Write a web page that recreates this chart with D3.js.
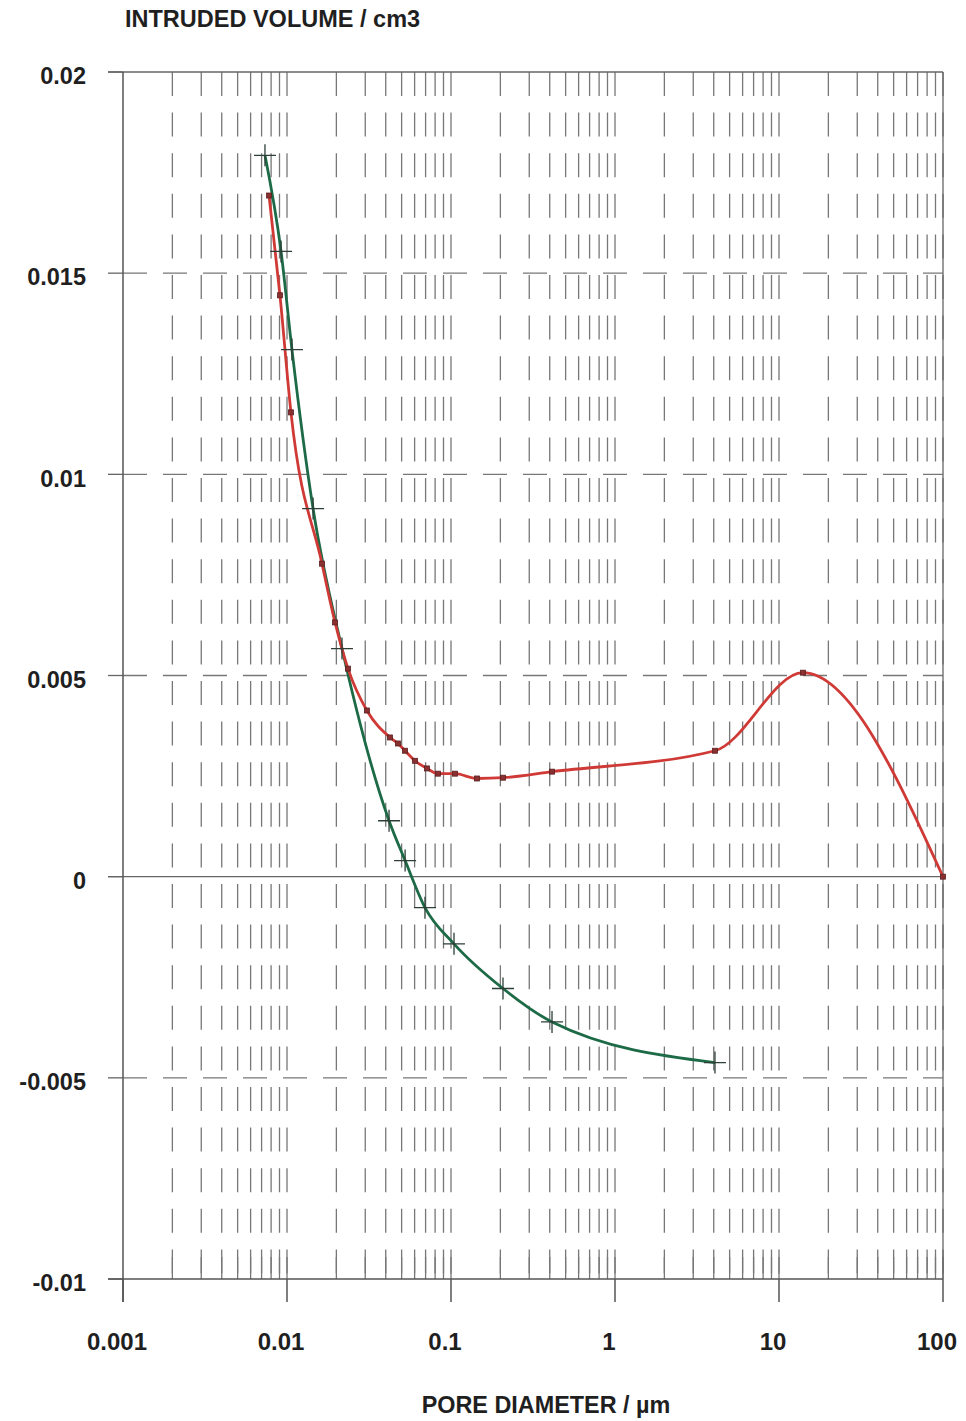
<!DOCTYPE html>
<html>
<head>
<meta charset="utf-8">
<script src="https://cdn.jsdelivr.net/npm/d3@7"></script>
<style>
  body { margin: 0; background: #fff; }
  text { font-family: "Liberation Sans", Arial, sans-serif; font-weight: bold; fill: #1f1f1f; }
</style>
</head>
<body>
<div class="chart"></div>
<script>
// pore diameter (um) and intruded volume (cm3)
var greenDiam = [0.00734, 0.0092, 0.01072, 0.01442, 0.02164, 0.0419, 0.0525, 0.0694, 0.1043, 0.2075, 0.413, 4.07];
var greenVol  = [0.01793, 0.01554, 0.0131, 0.00915, 0.00567, 0.00139, 0.0004, -0.00077, -0.00167, -0.00278, -0.00361, -0.00462];

var redDiam = [0.00777, 0.00906, 0.01057, 0.01634, 0.01963, 0.02355, 0.0307, 0.0425, 0.0475, 0.0524, 0.0603, 0.0714, 0.0833, 0.1058, 0.144, 0.2075, 0.413, 4.07, 14.0, 100];
var redVol  = [0.01693, 0.01445, 0.01154, 0.00778, 0.00632, 0.00517, 0.00413, 0.00346, 0.00331, 0.00313, 0.00288, 0.00269, 0.00256, 0.00256, 0.00244, 0.00246, 0.00261, 0.00313, 0.00507, 0];

var xTicks = [0.001, 0.01, 0.1, 1, 10, 100];
var xTickLabels = ["0.001", "0.01", "0.1", "1", "10", "100"];
var yTicks = [0.02, 0.015, 0.01, 0.005, 0, -0.005, -0.01];
var yTickLabels = ["0.02", "0.015", "0.01", "0.005", "0", "-0.005", "-0.01"];

function drawChart() {
    var width = 966, height = 1421;
    var plotLeft = 123, plotRight = 943, plotTop = 72, plotBottom = 1279;

    var svg = d3.select(".chart").append("svg")
        .attr("width", width)
        .attr("height", height);

    var x = d3.scaleLog().domain([0.001, 100]).range([plotLeft, plotRight]);
    var y = d3.scaleLinear().domain([-0.01, 0.02]).range([plotBottom, plotTop]);

    // minor vertical grid, 2..10 in every decade, short dashes
    var minor = [];
    for (var e = -3; e < 2; e++) {
        for (var m = 2; m <= 10; m++) minor.push(m * Math.pow(10, e));
    }
    svg.append("g").selectAll("line")
        .data(minor)
        .enter().append("line")
        .attr("x1", function (d) { return x(d); })
        .attr("x2", function (d) { return x(d); })
        .attr("y1", plotTop)
        .attr("y2", plotBottom)
        .attr("stroke", "#777")
        .attr("stroke-width", 1.3)
        .attr("stroke-dasharray", "24 16.6");

    // inward minor ticks on the x axis
    svg.append("g").selectAll("line")
        .data(minor)
        .enter().append("line")
        .attr("x1", function (d) { return x(d); })
        .attr("x2", function (d) { return x(d); })
        .attr("y1", plotBottom - 22)
        .attr("y2", plotBottom)
        .attr("stroke", "#777")
        .attr("stroke-width", 1.3);

    // horizontal grid, long dashes
    var hGrid = yTicks.filter(function (d) { return d !== 0 && d !== 0.02 && d !== -0.01; });
    svg.append("g").selectAll("line")
        .data(hGrid)
        .enter().append("line")
        .attr("x1", plotLeft)
        .attr("x2", plotRight)
        .attr("y1", function (d) { return y(d); })
        .attr("y2", function (d) { return y(d); })
        .attr("stroke", "#777")
        .attr("stroke-width", 1.3)
        .attr("stroke-dasharray", "24 16");

    // left ticks
    svg.append("g").selectAll("line")
        .data(yTicks)
        .enter().append("line")
        .attr("x1", plotLeft - 15)
        .attr("x2", plotLeft)
        .attr("y1", function (d) { return y(d); })
        .attr("y2", function (d) { return y(d); })
        .attr("stroke", "#666")
        .attr("stroke-width", 1.3);

    // solid lines: top, zero, bottom axis, left axis, right edge
    svg.append("line").attr("x1", plotLeft - 15).attr("x2", plotRight).attr("y1", y(0.02)).attr("y2", y(0.02))
        .attr("stroke", "#666").attr("stroke-width", 1.4);
    svg.append("line").attr("x1", plotLeft - 15).attr("x2", plotRight).attr("y1", y(0)).attr("y2", y(0))
        .attr("stroke", "#666").attr("stroke-width", 1.4);
    svg.append("line").attr("x1", plotLeft - 15).attr("x2", plotRight).attr("y1", plotBottom).attr("y2", plotBottom)
        .attr("stroke", "#555").attr("stroke-width", 1.5);
    svg.append("line").attr("x1", plotLeft).attr("x2", plotLeft).attr("y1", plotTop).attr("y2", plotBottom + 23)
        .attr("stroke", "#555").attr("stroke-width", 1.5);
    svg.append("line").attr("x1", plotRight).attr("x2", plotRight).attr("y1", plotTop).attr("y2", plotBottom)
        .attr("stroke", "#666").attr("stroke-width", 1.3);

    // decade ticks below the axis
    svg.append("g").selectAll("line")
        .data(xTicks)
        .enter().append("line")
        .attr("x1", function (d) { return x(d); })
        .attr("x2", function (d) { return x(d); })
        .attr("y1", plotBottom)
        .attr("y2", plotBottom + 23)
        .attr("stroke", "#555")
        .attr("stroke-width", 1.5);

    // tick labels
    svg.append("g").selectAll("text")
        .data(xTicks)
        .enter().append("text")
        .attr("x", function (d) { return x(d) - 6; })
        .attr("y", 1350)
        .attr("text-anchor", "middle")
        .style("font-size", "24px")
        .text(function (d, i) { return xTickLabels[i]; });

    svg.append("g").selectAll("text")
        .data(yTicks)
        .enter().append("text")
        .attr("x", 86)
        .attr("y", function (d) { return y(d) + 4; })
        .attr("dy", "0.35em")
        .attr("text-anchor", "end")
        .style("font-size", "23.5px")
        .text(function (d, i) { return yTickLabels[i]; });

    // axis titles
    svg.append("text")
        .attr("x", 125)
        .attr("y", 27)
        .style("font-size", "23.5px")
        .text("INTRUDED VOLUME / cm3");

    svg.append("text")
        .attr("x", 546)
        .attr("y", 1413)
        .attr("text-anchor", "middle")
        .style("font-size", "23.4px")
        .text("PORE DIAMETER / \u00b5m");

    // curves
    var line = d3.line()
        .x(function (d) { return x(d[0]); })
        .y(function (d) { return y(d[1]); })
        .curve(d3.curveMonotoneX);

    var green = d3.zip(greenDiam, greenVol);
    var red = d3.zip(redDiam, redVol);

    svg.append("path")
        .datum(green)
        .attr("d", line)
        .attr("fill", "none")
        .attr("stroke", "#1d6a47")
        .attr("stroke-width", 2.8);

    svg.append("path")
        .datum(red)
        .attr("d", line)
        .attr("fill", "none")
        .attr("stroke", "#cf3a36")
        .attr("stroke-width", 2.8);

    // green + markers
    svg.append("g").selectAll("path")
        .data(green)
        .enter().append("path")
        .attr("d", function (d) {
            var cx = x(d[0]), cy = y(d[1]);
            return "M" + (cx - 11) + "," + cy + "H" + (cx + 11) +
                "M" + cx + "," + (cy - 11) + "V" + (cy + 11);
        })
        .attr("stroke", "#2d3f37")
        .attr("stroke-width", 1.3)
        .attr("fill", "none");

    // red square markers
    svg.append("g").selectAll("rect")
        .data(red)
        .enter().append("rect")
        .attr("x", function (d) { return x(d[0]) - 2.5; })
        .attr("y", function (d) { return y(d[1]) - 2.5; })
        .attr("width", 5)
        .attr("height", 5)
        .attr("fill", "#8a3030")
        .attr("stroke", "#5a2020")
        .attr("stroke-width", 0.8);
}

drawChart();
</script>
</body>
</html>
